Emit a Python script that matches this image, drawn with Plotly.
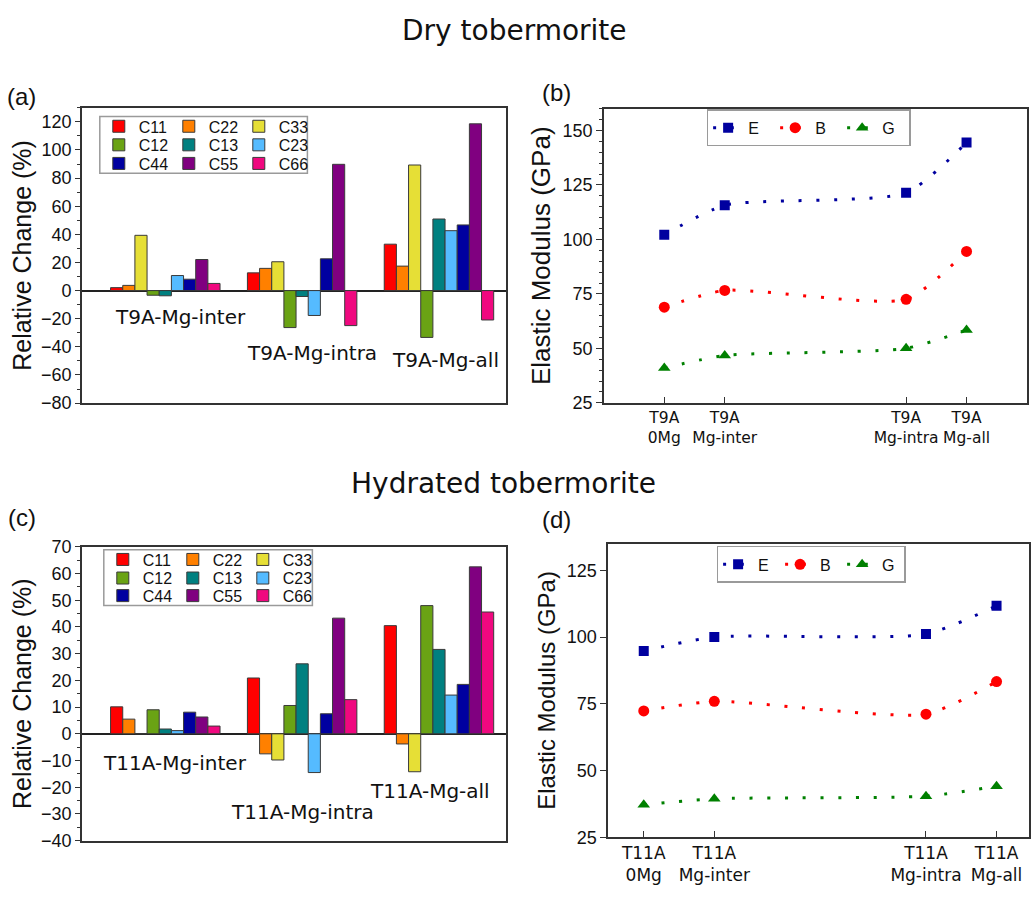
import plotly.graph_objects as go

W, H = 1031, 902

# ---------------- data ----------------
coeffs = ["C11", "C22", "C33", "C12", "C13", "C23", "C44", "C55", "C66"]
coeff_colors = ["#FF0000", "#FF8000", "#E6DF36", "#6AA314", "#008080",
                "#55BBFF", "#0000A0", "#800080", "#F0087F"]

t9a_groups = ["T9A-Mg-inter", "T9A-Mg-intra", "T9A-Mg-all"]
t9a_inter = [2.1, 3.7, 39.3, -3.3, -3.7, 10.7, 8.1, 22.1, 5.1]
t9a_intra = [12.6, 15.8, 20.5, -26.3, -4.2, -17.7, 22.6, 89.8, -24.9]
t9a_all = [33.0, 17.4, 89.3, -33.3, 50.9, 42.6, 46.7, 118.6, -20.9]

t11a_groups = ["T11A-Mg-inter", "T11A-Mg-intra", "T11A-Mg-all"]
t11a_inter = [10.1, 5.5, 0.0, 9.0, 1.8, 1.2, 8.1, 6.3, 2.9]
t11a_intra = [20.9, -7.5, -9.8, 10.6, 26.2, -14.5, 7.5, 43.3, 12.8]
t11a_all = [40.5, -3.8, -14.2, 48.0, 31.6, 14.5, 18.5, 62.5, 45.6]

state_pos = [0, 1, 4, 5]
t9a_states = ["T9A<br>0Mg", "T9A<br>Mg-inter", "T9A<br>Mg-intra", "T9A<br>Mg-all"]
t11a_states = ["T11A<br>0Mg", "T11A<br>Mg-inter", "T11A<br>Mg-intra", "T11A<br>Mg-all"]

t9a_E = [102.1, 115.7, 121.4, 144.5]
t9a_B = [68.9, 76.6, 72.5, 94.5]
t9a_G = [41.0, 46.7, 50.0, 58.4]
t11a_E = [94.8, 100.0, 101.1, 111.7]
t11a_B = [72.3, 75.9, 71.1, 83.3]
t11a_G = [37.2, 39.4, 40.4, 44.1]

moduli_names = ["E", "B", "G"]
moduli_colors = ["#00009F", "#FF0000", "#008000"]
moduli_symbols = ["square", "circle", "triangle-up"]
moduli_sizes = [10, 11, 11]

ARIAL = "Arial, Liberation Sans, sans-serif"
DEJAVU = "DejaVu Sans, Verdana, sans-serif"
AXC = "#333333"


def px(x):
    return x / W


def py(y):
    return 1 - y / H


fig = go.Figure()

# ---------------- bar panels ----------------
bar_sets = [
    ("x", "y", t9a_groups, [t9a_inter, t9a_intra, t9a_all], ["legend", "legend2", "legend3"]),
    ("x3", "y3", t11a_groups, [t11a_inter, t11a_intra, t11a_all], ["legend4", "legend5", "legend6"]),
]
for xa, ya, groups, vals, legs in bar_sets:
    for i, c in enumerate(coeffs):
        fig.add_trace(go.Bar(
            x=groups, y=[v[i] for v in vals], name=c,
            marker=dict(color=coeff_colors[i], line=dict(color="#3a3a3a", width=1)),
            xaxis=xa, yaxis=ya, legend=legs[i // 3], showlegend=True,
        ))

# ---------------- line panels ----------------
line_sets = [
    ("x2", "y2", [t9a_E, t9a_B, t9a_G], "legend7"),
    ("x4", "y4", [t11a_E, t11a_B, t11a_G], "legend8"),
]
for xa, ya, series, leg in line_sets:
    for k, name in enumerate(moduli_names):
        fig.add_trace(go.Scatter(
            x=state_pos, y=series[k], name=name, mode="lines+markers",
            line=dict(color=moduli_colors[k], width=3, dash="3px,14.7px",
                      shape="spline", smoothing=0.6),
            marker=dict(color=moduli_colors[k], symbol=moduli_symbols[k],
                        size=moduli_sizes[k]),
            xaxis=xa, yaxis=ya, legend=leg,
        ))

# ---------------- axes ----------------
def frame(**kw):
    d = dict(showline=True, linecolor=AXC, linewidth=1.5, mirror=True,
             showgrid=False, zeroline=False)
    d.update(kw)
    return d


tickfont = dict(family=ARIAL, size=18, color="#111")

layout = dict(
    width=W, height=H, margin=dict(l=0, r=0, t=0, b=0),
    paper_bgcolor="white", plot_bgcolor="rgba(0,0,0,0)",
    barmode="group", bargap=0.2, bargroupgap=0,
    font=dict(family=ARIAL, color="#111"),
)

# (a)
layout["xaxis"] = frame(domain=[px(82), px(507)], anchor="y", range=[-0.61, 2.49],
                        showticklabels=False, ticks="")
layout["yaxis"] = frame(domain=[py(402), py(100)], anchor="x", range=[-80, 130],
                        tickmode="linear", tick0=0, dtick=20, ticks="outside",
                        ticklen=5, tickwidth=1.2, tickcolor=AXC, tickfont=tickfont,
                        minor=dict(dtick=10, ticks="outside", ticklen=3, tickcolor=AXC),
                        zeroline=True, zerolinecolor="#222", zerolinewidth=1.5,
                        title=dict(text="Relative Change (%)", font=dict(family=ARIAL, size=25),
                                   standoff=2))
# (b)
layout["xaxis2"] = frame(domain=[px(605), px(1029)], anchor="y2", range=[-1, 6],
                         tickmode="array", tickvals=state_pos, ticktext=t9a_states,
                         ticks="inside", ticklen=6, tickcolor=AXC, tickangle=0,
                         tickfont=dict(family=DEJAVU, size=15.5, color="#111"))
layout["yaxis2"] = frame(domain=[py(401.7), py(101)], anchor="x2", range=[25, 160],
                         tickmode="linear", tick0=25, dtick=25, ticks="outside",
                         ticklen=6, tickwidth=1.2, tickcolor=AXC, tickfont=tickfont,
                         minor=dict(dtick=5, ticks="outside", ticklen=3, tickcolor=AXC),
                         title=dict(text="Elastic Modulus (GPa)", font=dict(family=ARIAL, size=26),
                                    standoff=4))
layout["yaxis5"] = dict(overlaying="y2", anchor="x2", side="right", range=[25, 160],
                        tickmode="linear", tick0=25, dtick=25, ticks="inside",
                        ticklen=6, tickwidth=1.2, tickcolor=AXC, showticklabels=False,
                        minor=dict(dtick=5, ticks="inside", ticklen=3, tickcolor=AXC),
                        showgrid=False, zeroline=False, showline=False)
# (c)
layout["xaxis3"] = frame(domain=[px(82), px(507)], anchor="y3", range=[-0.61, 2.49],
                         showticklabels=False, ticks="")
layout["yaxis3"] = frame(domain=[py(849.5), py(549)], anchor="x3", range=[-40, 70],
                         tickmode="linear", tick0=0, dtick=10, ticks="outside",
                         ticklen=5, tickwidth=1.2, tickcolor=AXC, tickfont=tickfont,
                         minor=dict(dtick=5, ticks="outside", ticklen=3, tickcolor=AXC),
                         zeroline=True, zerolinecolor="#222", zerolinewidth=1.5,
                         title=dict(text="Relative Change (%)", font=dict(family=ARIAL, size=25),
                                    standoff=2))
# (d)
layout["xaxis4"] = frame(domain=[px(609.3), 1.0], anchor="y4", range=[-0.505, 5.46],
                         tickmode="array", tickvals=state_pos, ticktext=t11a_states,
                         ticks="inside", ticklen=6, tickcolor=AXC, tickangle=0,
                         tickfont=dict(family=DEJAVU, size=17, color="#111"))
layout["yaxis4"] = frame(domain=[py(846), py(545.7)], anchor="x4", range=[25, 135],
                         tickmode="linear", tick0=25, dtick=25, ticks="outside",
                         ticklen=6, tickwidth=1.2, tickcolor=AXC, tickfont=tickfont,
                         title=dict(text="Elastic Modulus (GPa)", font=dict(family=ARIAL, size=24),
                                    standoff=4))
layout["yaxis6"] = dict(overlaying="y4", anchor="x4", side="right", range=[25, 135],
                        tickmode="linear", tick0=25, dtick=25, ticks="inside",
                        ticklen=6, tickwidth=1.2, tickcolor=AXC, showticklabels=False,
                        showgrid=False, zeroline=False, showline=False)

# ---------------- legends ----------------
def row_legend(x, ycen):
    return dict(x=px(x), y=py(ycen), xanchor="left", yanchor="middle",
                orientation="h", entrywidth=25, entrywidthmode="pixels",
                bgcolor="rgba(0,0,0,0)", borderwidth=0,
                font=dict(family=ARIAL, size=16, color="#111"), traceorder="normal")


layout["legend"] = row_legend(99, 119)
layout["legend2"] = row_legend(99, 138)
layout["legend3"] = row_legend(99, 157)
layout["legend4"] = row_legend(103, 562)
layout["legend5"] = row_legend(103, 581)
layout["legend6"] = row_legend(103, 599)


def line_legend(x, ycen, ew):
    return dict(x=px(x), y=py(ycen), xanchor="left", yanchor="middle",
                orientation="h", entrywidth=ew, entrywidthmode="pixels",
                bgcolor="white", bordercolor="#9a9a9a", borderwidth=1.5,
                font=dict(family=ARIAL, size=16, color="#111"))


layout["legend7"] = line_legend(708, 120.5, 22)
layout["legend8"] = line_legend(718, 567, 17)

layout["shapes"] = [
    dict(type="rect", xref="paper", yref="paper", x0=px(100), x1=px(308),
         y0=py(167), y1=py(109), line=dict(color="#9a9a9a", width=1.5),
         fillcolor="white", layer="below"),
    dict(type="rect", xref="paper", yref="paper", x0=px(104), x1=px(313),
         y0=py(609), y1=py(552), line=dict(color="#9a9a9a", width=1.5),
         fillcolor="white", layer="below"),
]

# ---------------- annotations ----------------
ann = []


def text(t, x, y, size, family, xref="paper", yref="paper"):
    ann.append(dict(text=t, x=x, y=y, xref=xref, yref=yref, showarrow=False,
                    xanchor="center", yanchor="middle",
                    font=dict(family=family, size=size, color="#111")))


text("Dry tobermorite", px(516), py(21), 28, DEJAVU)
text("Hydrated tobermorite", px(504), py(484), 28, DEJAVU)
text("(a)", px(22), py(88), 24, ARIAL)
text("(b)", px(558), py(84), 24, ARIAL)
text("(c)", px(22), py(519), 24, ARIAL)
text("(d)", px(558), py(521), 24, ARIAL)

for g, xv, yv in zip(t9a_groups, [0.11, 1.07, 2.05], [-18.8, -44.7, -49.5]):
    text(g, xv, yv, 20, DEJAVU, "x", "y")
for g, xv, yv in zip(t11a_groups, [0.068, 1.004, 1.936], [-10.9, -29.2, -21.5]):
    text(g, xv, yv, 20, DEJAVU, "x3", "y3")

layout["annotations"] = ann

fig.update_layout(**layout)
fig.write_html("out.html")
